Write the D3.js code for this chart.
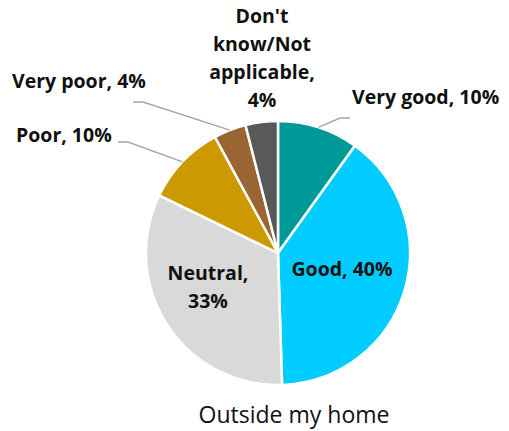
<!DOCTYPE html>
<html>
<head>
<meta charset="utf-8">
<script src="https://cdn.jsdelivr.net/npm/d3@7/dist/d3.min.js"></script>
<style>
  html, body { margin: 0; padding: 0; background: #fff; }
  svg { display: block; }
  text { font-family: "Open Sans", "Noto Sans", sans-serif; }
</style>
</head>
<body>
<script>
// Survey responses for "Outside my home"
const categories = ["Very good", "Good", "Neutral", "Poor", "Very poor", "Don't know/Not applicable"];
const values = [10, 40, 33, 10, 4, 4];
const colors = ["#009999", "#00CCFF", "#D9D9D9", "#CC9900", "#996633", "#595959"];
const chartTitle = "Outside my home";

const width = 509, height = 431;
const cx = 278, cy = 253, radius = 132;

const svg = d3.select("body").append("svg")
  .attr("width", width).attr("height", height);

const pie = d3.pie().sort(null).value(d => d.value);
const arc = d3.arc().innerRadius(0).outerRadius(radius);
const data = categories.map((c, i) => ({ name: c, value: values[i], color: colors[i] }));
const arcs = pie(data);

const g = svg.append("g").attr("transform", `translate(${cx},${cy})`);

g.selectAll("path.slice")
  .data(arcs)
  .join("path")
  .attr("class", "slice")
  .attr("d", arc)
  .attr("fill", d => d.data.color)
  .attr("stroke", "#fff")
  .attr("stroke-width", 2.5)
  .attr("stroke-linejoin", "round");

// label placement per slice (offsets relative to the pie centre)
const labelLayout = {
  "Very good":  { x: 74, y: -149, anchor: "start", leader: [[72, -135], [62, -135]] },
  "Good":       { x: 64, y: 23, anchor: "middle" },
  "Neutral":    { x: -70, y: 27, anchor: "middle", split: true },
  "Poor":       { x: -262, y: -111, anchor: "start", leader: [[-160, -111], [-150, -111]] },
  "Very poor":  { x: -266, y: -165, anchor: "start", leader: [[-145, -151], [-135, -151]] },
  "Don't know/Not applicable": { x: -16, y: -230, anchor: "middle", stack: true }
};

const fmt = v => `${v}%`;
const fontSize = 19.5;
const lineH = 28;

arcs.forEach(a => {
  const L = labelLayout[a.data.name];
  const pct = fmt(a.data.value);
  let lines;
  if (L.stack) lines = ["Don't", "know/Not", "applicable,", pct];
  else if (L.split) lines = [`${a.data.name},`, pct];
  else lines = [`${a.data.name}, ${pct}`];

  const t = g.append("text")
    .attr("x", L.x).attr("y", L.y)
    .attr("text-anchor", L.anchor)
    .attr("font-size", fontSize)
    .attr("font-weight", 700)
    .attr("fill", "#111");
  lines.forEach((s, i) => {
    t.append("tspan").attr("x", L.x).attr("dy", i === 0 ? 0 : lineH).text(s);
  });

  if (L.leader) {
    const mid = (a.startAngle + a.endAngle) / 2;
    const edge = [Math.sin(mid) * radius, -Math.cos(mid) * radius];
    const pts = [L.leader[0], L.leader[1], edge];
    g.append("path")
      .attr("d", d3.line()(pts))
      .attr("fill", "none")
      .attr("stroke", "#A6A6A6")
      .attr("stroke-width", 1.5);
  }
});

svg.append("text")
  .attr("x", 294).attr("y", 423)
  .attr("text-anchor", "middle")
  .attr("font-size", 23)
  .attr("fill", "#111")
  .text(chartTitle);
</script>
</body>
</html>
